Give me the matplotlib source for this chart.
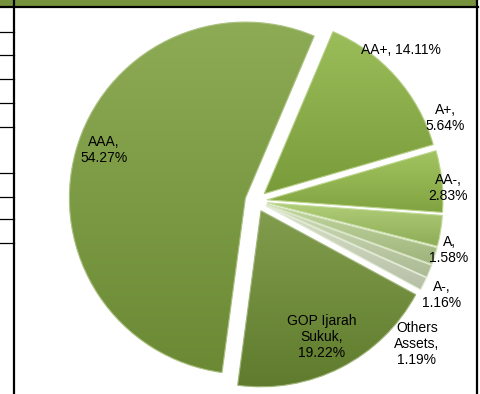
import numpy as np
import matplotlib
matplotlib.use("Agg")
import matplotlib.pyplot as plt
from matplotlib.colors import to_rgb
from matplotlib.lines import Line2D
from matplotlib.patches import Rectangle

# ---- data (clockwise from the top-right) ----
categories = ["AA+", "A+", "AA-", "A", "A-", "Others\nAssets", "GOP Ijarah\nSukuk", "AAA"]
values = [14.11, 5.64, 2.83, 1.58, 1.16, 1.19, 19.22, 54.27]
separators = [" ", "\n", "\n", "\n", "\n", "\n", "\n", "\n"]

# ---- styles ----
slice_colors = ["#8DB443", "#96BD4B", "#A6C866", "#B9D191", "#C8D8AD", "#D4DFC2", "#6F8F34", "#7DA03D"]
# label centres in pixel coordinates of the 481x394 picture
label_px = [(401, 50), (445, 118), (448, 188), (449, 250), (442, 295), (417, 344), (322, 337), (104, 150)]

W, H = 481, 394
CX, CY, R = 256, 201, 176  # pie centre and radius in pixels

fig = plt.figure(figsize=(W / 100, H / 100), dpi=100)
ax = fig.add_axes([0, 0, 1, 1])


def lighten(c, f):
    c = np.array(to_rgb(c))
    return np.clip(c + (1 - c) * f, 0, 1) if f >= 0 else np.clip(c * (1 + f), 0, 1)


wedges, _ = ax.pie(values, startangle=67, counterclock=False, explode=[0.0625] * len(values),
                   radius=1, colors=slice_colors,
                   wedgeprops=dict(linewidth=0.8))

for w, col in zip(wedges, slice_colors):
    th = np.radians(np.linspace(w.theta1, w.theta2, 200))
    xs = np.concatenate([[w.center[0]], w.center[0] + w.r * np.cos(th)])
    ys = np.concatenate([[w.center[1]], w.center[1] + w.r * np.sin(th)])
    top, bot = lighten(col, 0.12), lighten(col, -0.14)
    t = np.linspace(0, 1, 256)[:, None]
    grad = (top[None, :] * (1 - t) + bot[None, :] * t)[:, None, :]
    im = ax.imshow(grad, extent=[xs.min(), xs.max(), ys.min(), ys.max()], origin="upper",
                   aspect="auto", interpolation="bilinear", zorder=2)
    im.set_clip_path(w)
    w.set_facecolor("none")
    w.set_edgecolor(lighten(col, 0.35))
    w.set_zorder(3)

for cat, val, sep, (px, py) in zip(categories, values, separators, label_px):
    ax.text((px - CX) / R, (CY - py) / R, f"{cat},{sep}{val:.2f}%", ha="center", va="center",
            fontsize=10, family="Liberation Sans", color="black", linespacing=1.15, zorder=5)

ax.set_xlim(-CX / R, (W - CX) / R)
ax.set_ylim(-(H - CY) / R, CY / R)
ax.set_aspect("auto")
ax.axis("off")

# ---- surrounding sheet decoration ----
fig.add_artist(Rectangle((0, 1 - 6.5 / H), 478 / W, 6.5 / H, transform=fig.transFigure,
                         facecolor="#76923C", edgecolor="none"))
fig.add_artist(Line2D([0, 478 / W], [1 - 7 / H] * 2, transform=fig.transFigure, color="black", lw=1.6))
fig.add_artist(Line2D([14 / W] * 2, [0, 1], transform=fig.transFigure, color="black", lw=1.6))
fig.add_artist(Line2D([477.5 / W] * 2, [0, 1], transform=fig.transFigure, color="black", lw=1.6))
for yy in [31.7, 55.3, 79.3, 102.7, 126.7, 172.7, 196.7, 219.3, 243.3]:
    fig.add_artist(Line2D([0, 14 / W], [1 - yy / H] * 2, transform=fig.transFigure, color="black", lw=0.9))

fig.savefig("out.png", dpi=100)
